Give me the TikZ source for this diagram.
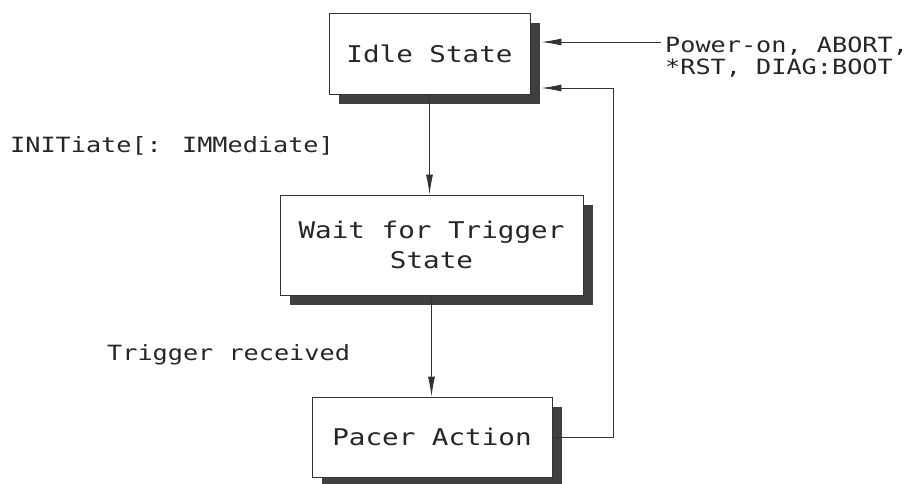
\documentclass[tikz,border=0pt]{standalone}
\usepackage{fontspec}
\newfontfamily\plotfont[FakeStretch=1.2]{DejaVu Sans Mono}
\usetikzlibrary{arrows.meta,shadows}
\begin{document}
\begin{tikzpicture}[x=1pt,y=-1pt,
  statebox/.style={draw=black!80, line width=0.9pt, fill=white, align=center,
    text=black!85, font=\plotfont\fontsize{23}{30}\selectfont,
    drop shadow={shadow xshift=10pt, shadow yshift=-10pt, fill=black!75, opacity=1}},
  lbl/.style={inner sep=0pt, text=black!85, align=left,
    font=\plotfont\fontsize{21}{22}\selectfont},
  conn/.style={draw=black!80, line width=0.9pt, -{Latex[length=20pt,width=7pt]}}
]
\useasboundingbox (0,0) rectangle (910,484);

\node[statebox, minimum width=201pt, minimum height=81pt] (idle) at (429.5,53.5) {Idle State};
\node[statebox, minimum width=303pt, minimum height=100pt] (wait) at (431.5,245) {Wait for Trigger\\State};
\node[statebox, minimum width=240pt, minimum height=80pt] (pacer) at (432,437) {Pacer Action};

\node[lbl, anchor=base west] (init) at (10,153) {INITiate[: IMMediate]};
\node[lbl, anchor=base west] (trig) at (107,360) {Trigger received};
\node[lbl, anchor=west] (pow) at (665,57) {Power-on, ABORT,\\*RST, DIAG:BOOT};

\coordinate (idleR) at ([xshift=11pt]idle.east);
\coordinate (pin) at (661,42);
\coordinate (retin) at ([yshift=-34.5pt]idleR);

\draw[conn] (idle.south) -- (idle.south |- wait.north);
\draw[conn] (wait.south) -- (wait.south |- pacer.north);
\draw[conn] (pin) -- (idleR |- pin);
\draw[conn] (pacer.east) -- ++(61,0) |- (retin);
\end{tikzpicture}
\end{document}
